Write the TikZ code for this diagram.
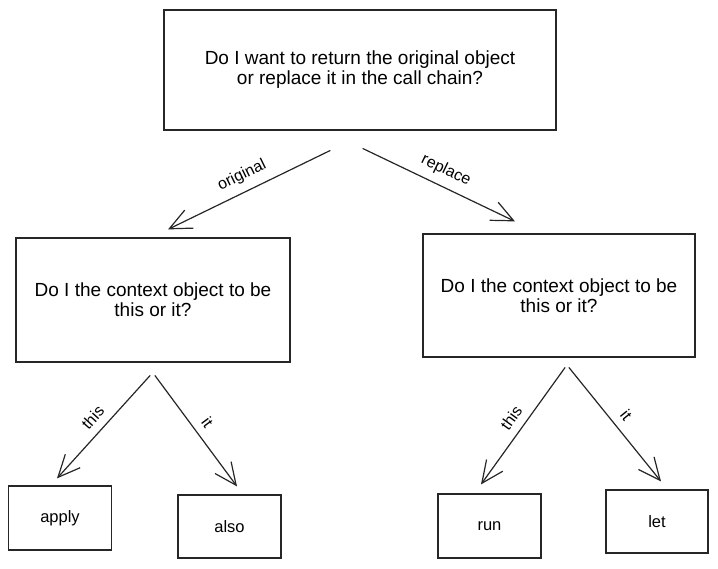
\documentclass[tikz,border=0pt]{standalone}
\usepackage{fontspec}
\setmainfont{Liberation Sans}
\usepackage{tikz}
\usetikzlibrary{arrows.meta,shapes}
\tikzstyle{edge}=[
	-{Straight Barb[length=22pt,width=20pt]},
	draw=black!85,
	line width=1.2pt,
	line cap=round
]
\tikzstyle{box}=[
	rectangle,
	draw=black!85,
	line width=1.2pt,
	inner sep=0pt,
	align=center,
	font=\fontsize{19}{20}\selectfont
]
\tikzstyle{leaf}=[
	box,
	minimum width=103pt,
	minimum height=64pt,
	font=\fontsize{16.5}{18}\selectfont
]
\tikzstyle{lbl}=[
	midway,
	sloped,
	above=7pt,
	inner sep=1pt,
	font=\fontsize{16}{18}\selectfont
]

\begin{document}
\begin{tikzpicture}[x=1pt,y=-1pt]
\useasboundingbox (0,0) rectangle (718,568);

\node[box, minimum width=392pt, minimum height=120pt] (chain) at (360,70) {Do I want to return the original object\\or replace it in the call chain?};
\node[box, minimum width=274pt, minimum height=124pt] (orig) at (153,300) {Do I the context object to be\\this or it?};
\node[box, minimum width=272pt, minimum height=123pt] (repl) at (559,295.5) {Do I the context object to be\\this or it?};

\node[leaf] (apply) at (60,518) {apply};
\node[leaf, minimum height=63pt] (also) at (229.5,526.5) {also};
\node[leaf] (run) at (489.5,526) {run};
\node[leaf, minimum width=102pt, minimum height=63pt] (let) at (657,521.5) {let};

\draw[edge] ([xshift=-30pt,yshift=-20pt]chain.south) -- node[lbl] {original} ([xshift=15pt,yshift=8pt]orig.north);
\draw[edge] ([xshift=3pt,yshift=-18pt]chain.south) -- node[lbl] {replace} ([xshift=-44pt,yshift=12pt]repl.north);

\draw[edge] ([xshift=-3pt,yshift=-13pt]orig.south) -- node[lbl] {this} ([xshift=-3pt,yshift=7pt]apply.north);
\draw[edge] ([xshift=2pt,yshift=-13pt]orig.south) -- node[lbl] {it} ([xshift=7.5pt,yshift=8pt]also.north);
\draw[edge] ([xshift=6pt,yshift=-10pt]repl.south) -- node[lbl] {this} ([xshift=-8.5pt,yshift=9pt]run.north);
\draw[edge] ([xshift=10pt,yshift=-10pt]repl.south) -- node[lbl] {it} ([xshift=4pt,yshift=8pt]let.north);

\end{tikzpicture}
\end{document}
